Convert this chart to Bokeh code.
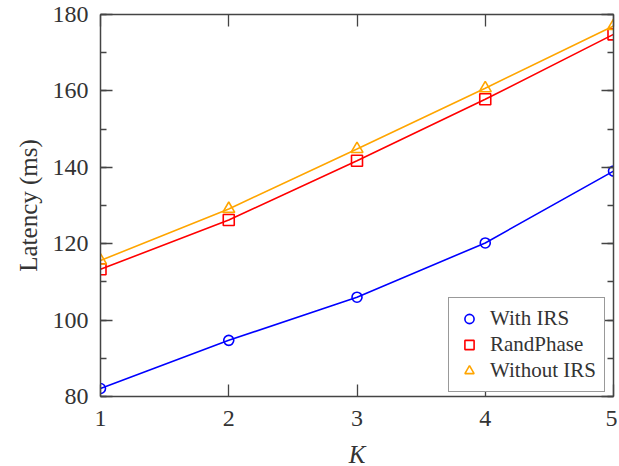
from bokeh.plotting import figure
from bokeh.models import LinearAxis, FixedTicker, CustomJSTickFormatter, Range1d, Legend, LegendItem
from bokeh.embed import file_html
from bokeh.resources import INLINE

K = [1, 2, 3, 4, 5]
with_irs = [82.1, 94.7, 106.0, 120.2, 139.0]
rand_phase = [113.3, 126.2, 141.7, 157.8, 174.8]
without_irs = [115.6, 129.1, 144.8, 160.7, 177.0]
x_ticks = [1, 2, 3, 4, 5]
y_ticks = [80, 100, 120, 140, 160, 180]

FONT = "Liberation Serif"
TXT = "#333333"
AX = "#444444"

p = figure(frame_width=513, frame_height=382, output_backend="svg", toolbar_location=None,
           x_range=Range1d(1, 5), y_range=Range1d(80, 180),
           min_border_left=100, min_border_top=14, min_border_right=4, min_border_bottom=10)
p.xgrid.visible = False
p.ygrid.visible = False
p.outline_line_color = None
p.background_fill_color = "white"

def style(ax, labels=True):
    ax.axis_line_color = AX
    ax.axis_line_width = 1.5
    ax.major_tick_line_color = AX
    ax.minor_tick_line_color = AX
    ax.major_tick_line_width = 1.3
    ax.minor_tick_line_width = 1.3
    ax.major_tick_in = 12
    ax.major_tick_out = 0
    ax.minor_tick_in = 6
    ax.minor_tick_out = 0
    ax.major_label_text_font = FONT
    ax.major_label_text_font_size = "24px"
    ax.major_label_text_color = TXT
    ax.axis_label_text_font = FONT
    ax.axis_label_text_font_size = "25px"
    ax.axis_label_text_color = TXT
    ax.axis_label_text_font_style = "normal"
    if not labels:
        ax.formatter = CustomJSTickFormatter(code="return ''")
        ax.major_label_standoff = 0

xt = FixedTicker(ticks=x_ticks, minor_ticks=[])
yminor = list(range(80, 181, 10))
yt = FixedTicker(ticks=y_ticks, minor_ticks=yminor)

p.xaxis.ticker = xt
p.yaxis.ticker = yt
style(p.xaxis[0])
style(p.yaxis[0])
p.xaxis.axis_label = "K"
p.xaxis.axis_label_text_font_style = "italic"
p.xaxis.major_label_standoff = 14
p.xaxis.axis_label_standoff = 12
p.yaxis.axis_label = "Latency (ms)"
p.yaxis.major_label_standoff = 12
p.yaxis.axis_label_standoff = 8

top = LinearAxis(ticker=FixedTicker(ticks=x_ticks, minor_ticks=[]))
style(top, labels=False)
right = LinearAxis(ticker=FixedTicker(ticks=y_ticks, minor_ticks=yminor))
style(right, labels=False)
p.add_layout(top, "above")
p.add_layout(right, "right")

series = [
    (with_irs, "#0000FF", "circle", 10, "With IRS"),
    (rand_phase, "#FF0000", "square", 11, "RandPhase"),
    (without_irs, "#FFA500", "triangle", 12, "Without IRS"),
]
items = []
for ys, c, m, s, lab in series:
    p.line(K, ys, line_color=c, line_width=1.6)
    r = p.scatter(K, ys, marker=m, size=s, line_color=c, line_width=1.6, fill_color=None)
    items.append(LegendItem(label=lab, renderers=[r]))

leg = Legend(items=items, location=(348, 4))
leg.label_text_font = FONT
leg.label_text_font_size = "21px"
leg.label_text_color = TXT
leg.border_line_color = "#333333"
leg.border_line_width = 1.3
leg.background_fill_alpha = 1
leg.margin = 0
leg.padding = 8
leg.spacing = 1
leg.glyph_width = 24
leg.glyph_height = 23
leg.label_height = 23
leg.label_standoff = 9
p.add_layout(leg, "center")

open("out.html", "w").write(file_html(p, INLINE))
